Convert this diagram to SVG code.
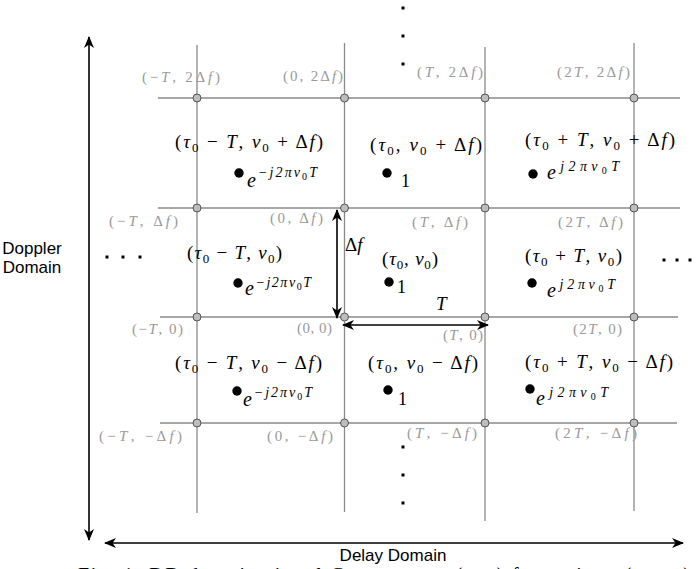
<svg xmlns="http://www.w3.org/2000/svg" width="696" height="569" viewBox="0 0 696 569">
<style>
.grid{stroke:#8a8a8a;stroke-width:1.3;fill:none}
.pt{fill:#bdbdbd;stroke:#555;stroke-width:1}
.g{font-family:"Liberation Serif",serif;font-size:15px;fill:#9a9a9a}
.m{font-family:"Liberation Serif",serif;font-size:19px;fill:#000}
.i{font-style:italic}
.s{font-size:13px;font-style:normal}
.ss{font-size:10px;font-style:normal}
.sup{font-size:14px;font-style:italic}
.e{font-family:"Liberation Serif",serif;font-size:20px;font-style:italic;fill:#000}
.one{font-family:"Liberation Serif",serif;font-size:18px;fill:#000}
.ax{stroke:#000;stroke-width:1.6;fill:none}
.lbl{font-family:"Liberation Sans",Arial,sans-serif;font-size:17px;fill:#000}
.dot{fill:#000}
</style>
<defs>
<marker id="ah" viewBox="0 0 12 10" refX="11" refY="5" markerWidth="12" markerHeight="10" orient="auto-start-reverse" markerUnits="userSpaceOnUse">
<path d="M0,0 L12,5 L0,10 L3.5,5 z" fill="#000"/>
</marker>
</defs>

<g id="grid-lines">
<line class="grid" x1="158" y1="98" x2="680" y2="98"/>
<line class="grid" x1="158" y1="208" x2="680" y2="208"/>
<line class="grid" x1="160" y1="317" x2="678" y2="317"/>
<line class="grid" x1="160" y1="423" x2="677" y2="423"/>
<line class="grid" x1="197" y1="45" x2="197" y2="513"/>
<line class="grid" x1="344.5" y1="43" x2="344.5" y2="512"/>
<line class="grid" x1="485" y1="47" x2="485" y2="521"/>
<line class="grid" x1="634" y1="43" x2="634" y2="511"/>
</g>

<g id="grid-points">
<g id="p-mT-2df"><circle class="pt" cx="197" cy="98" r="4"/><text class="g" x="142" y="82" textLength="78" lengthAdjust="spacing">(−<tspan class="i">T</tspan>, 2Δ<tspan class="i">f</tspan>)</text></g>
<g id="p-0-2df"><circle class="pt" cx="344.5" cy="98" r="4"/><text class="g" x="283" y="81" textLength="60" lengthAdjust="spacing">(0, 2Δ<tspan class="i">f</tspan>)</text></g>
<g id="p-T-2df"><circle class="pt" cx="485" cy="98" r="4"/><text class="g" x="417" y="77" textLength="66" lengthAdjust="spacing">(<tspan class="i">T</tspan>, 2Δ<tspan class="i">f</tspan>)</text></g>
<g id="p-2T-2df"><circle class="pt" cx="634" cy="98" r="4"/><text class="g" x="557" y="77" textLength="73" lengthAdjust="spacing">(2<tspan class="i">T</tspan>, 2Δ<tspan class="i">f</tspan>)</text></g>

<g id="p-mT-df"><circle class="pt" cx="197" cy="208" r="4"/><text class="g" x="109" y="226" textLength="69" lengthAdjust="spacing">(−<tspan class="i">T</tspan>, Δ<tspan class="i">f</tspan>)</text></g>
<g id="p-0-df"><circle class="pt" cx="344.5" cy="208" r="4"/><text class="g" x="270" y="223" textLength="53" lengthAdjust="spacing">(0, Δ<tspan class="i">f</tspan>)</text></g>
<g id="p-T-df"><circle class="pt" cx="485" cy="208" r="4"/><text class="g" x="412" y="227" textLength="56" lengthAdjust="spacing">(<tspan class="i">T</tspan>, Δ<tspan class="i">f</tspan>)</text></g>
<g id="p-2T-df"><circle class="pt" cx="634" cy="208" r="4"/><text class="g" x="558" y="227" textLength="65" lengthAdjust="spacing">(2<tspan class="i">T</tspan>, Δ<tspan class="i">f</tspan>)</text></g>

<g id="p-mT-0"><circle class="pt" cx="197" cy="317" r="4"/><text class="g" x="132" y="334" textLength="51" lengthAdjust="spacing">(−<tspan class="i">T</tspan>, 0)</text></g>
<g id="p-0-0"><circle class="pt" cx="344.5" cy="317" r="4"/><text class="g" x="297" y="333" textLength="35" lengthAdjust="spacing">(0, 0)</text></g>
<g id="p-T-0"><circle class="pt" cx="485" cy="317" r="4"/><text class="g" x="443" y="340" textLength="40" lengthAdjust="spacing">(<tspan class="i">T</tspan>, 0)</text></g>
<g id="p-2T-0"><circle class="pt" cx="634" cy="317" r="4"/><text class="g" x="573" y="334" textLength="49" lengthAdjust="spacing">(2<tspan class="i">T</tspan>, 0)</text></g>

<g id="p-mT-mdf"><circle class="pt" cx="197" cy="423" r="4"/><text class="g" x="99" y="441" textLength="83" lengthAdjust="spacing">(−<tspan class="i">T</tspan>, −Δ<tspan class="i">f</tspan>)</text></g>
<g id="p-0-mdf"><circle class="pt" cx="344.5" cy="423" r="4"/><text class="g" x="267" y="441" textLength="66" lengthAdjust="spacing">(0, −Δ<tspan class="i">f</tspan>)</text></g>
<g id="p-T-mdf"><circle class="pt" cx="485" cy="423" r="4"/><text class="g" x="407" y="438" textLength="70" lengthAdjust="spacing">(<tspan class="i">T</tspan>, −Δ<tspan class="i">f</tspan>)</text></g>
<g id="p-2T-mdf"><circle class="pt" cx="634" cy="423" r="4"/><text class="g" x="555" y="438" textLength="82" lengthAdjust="spacing">(2<tspan class="i">T</tspan>, −Δ<tspan class="i">f</tspan>)</text></g>
</g>

<g id="cell-TL">
<text class="m" x="175" y="148" textLength="148" lengthAdjust="spacing">(<tspan class="i">τ</tspan><tspan class="s" dy="4">0</tspan><tspan dy="-4"> − </tspan><tspan class="i">T</tspan>, <tspan class="i">ν</tspan><tspan class="s" dy="4">0</tspan><tspan dy="-4"> + Δ</tspan><tspan class="i">f</tspan>)</text>
<circle class="dot" cx="239" cy="173" r="4.7"/>
<text class="e" x="247" y="187" textLength="70" lengthAdjust="spacing">e<tspan class="sup" dy="-10">−j2πν</tspan><tspan class="ss" dy="3">0</tspan><tspan class="sup" dy="-3">T</tspan></text>
</g>
<g id="cell-TM">
<text class="m" x="370" y="151" textLength="112" lengthAdjust="spacing">(<tspan class="i">τ</tspan><tspan class="s" dy="4">0</tspan><tspan dy="-4">, </tspan><tspan class="i">ν</tspan><tspan class="s" dy="4">0</tspan><tspan dy="-4"> + Δ</tspan><tspan class="i">f</tspan>)</text>
<circle class="dot" cx="387" cy="173" r="4.7"/>
<text class="one" x="401" y="187">1</text>
</g>
<g id="cell-TR">
<text class="m" x="525" y="146" textLength="150" lengthAdjust="spacing">(<tspan class="i">τ</tspan><tspan class="s" dy="4">0</tspan><tspan dy="-4"> + </tspan><tspan class="i">T</tspan>, <tspan class="i">ν</tspan><tspan class="s" dy="4">0</tspan><tspan dy="-4"> + Δ</tspan><tspan class="i">f</tspan>)</text>
<circle class="dot" cx="533" cy="174" r="4.7"/>
<text class="e" x="547" y="179" textLength="72" lengthAdjust="spacing">e<tspan class="sup" dy="-8">j2πν</tspan><tspan class="ss" dy="3">0</tspan><tspan class="sup" dy="-3">T</tspan></text>
</g>

<g id="cell-ML">
<text class="m" x="187" y="259" textLength="95" lengthAdjust="spacing">(<tspan class="i">τ</tspan><tspan class="s" dy="4">0</tspan><tspan dy="-4"> − </tspan><tspan class="i">T</tspan>, <tspan class="i">ν</tspan><tspan class="s" dy="4">0</tspan><tspan dy="-4">)</tspan></text>
<circle class="dot" cx="238" cy="283" r="4.7"/>
<text class="e" x="245" y="295" textLength="66" lengthAdjust="spacing">e<tspan class="sup" dy="-8">−j2πν</tspan><tspan class="ss" dy="3">0</tspan><tspan class="sup" dy="-3">T</tspan></text>
</g>
<g id="cell-MM">
<text class="m" x="382" y="265" textLength="56" lengthAdjust="spacing">(<tspan class="i">τ</tspan><tspan class="s" dy="4">0</tspan><tspan dy="-4">, </tspan><tspan class="i">ν</tspan><tspan class="s" dy="4">0</tspan><tspan dy="-4">)</tspan></text>
<circle class="dot" cx="389" cy="282" r="4.7"/>
<text class="one" x="397" y="293">1</text>
</g>
<g id="cell-MR">
<text class="m" x="525" y="262" textLength="97" lengthAdjust="spacing">(<tspan class="i">τ</tspan><tspan class="s" dy="4">0</tspan><tspan dy="-4"> + </tspan><tspan class="i">T</tspan>, <tspan class="i">ν</tspan><tspan class="s" dy="4">0</tspan><tspan dy="-4">)</tspan></text>
<circle class="dot" cx="532" cy="283" r="4.7"/>
<text class="e" x="547" y="297" textLength="68" lengthAdjust="spacing">e<tspan class="sup" dy="-8">j2πν</tspan><tspan class="ss" dy="3">0</tspan><tspan class="sup" dy="-3">T</tspan></text>
</g>

<g id="cell-BL">
<text class="m" x="175" y="369" textLength="147" lengthAdjust="spacing">(<tspan class="i">τ</tspan><tspan class="s" dy="4">0</tspan><tspan dy="-4"> − </tspan><tspan class="i">T</tspan>, <tspan class="i">ν</tspan><tspan class="s" dy="4">0</tspan><tspan dy="-4"> − Δ</tspan><tspan class="i">f</tspan>)</text>
<circle class="dot" cx="237" cy="391" r="4.7"/>
<text class="e" x="243" y="406" textLength="69" lengthAdjust="spacing">e<tspan class="sup" dy="-9">−j2πν</tspan><tspan class="ss" dy="3">0</tspan><tspan class="sup" dy="-3">T</tspan></text>
</g>
<g id="cell-BM">
<text class="m" x="368" y="369" textLength="110" lengthAdjust="spacing">(<tspan class="i">τ</tspan><tspan class="s" dy="4">0</tspan><tspan dy="-4">, </tspan><tspan class="i">ν</tspan><tspan class="s" dy="4">0</tspan><tspan dy="-4"> − Δ</tspan><tspan class="i">f</tspan>)</text>
<circle class="dot" cx="388" cy="390" r="4.7"/>
<text class="one" x="398" y="405">1</text>
</g>
<g id="cell-BR">
<text class="m" x="525" y="368" textLength="148" lengthAdjust="spacing">(<tspan class="i">τ</tspan><tspan class="s" dy="4">0</tspan><tspan dy="-4"> + </tspan><tspan class="i">T</tspan>, <tspan class="i">ν</tspan><tspan class="s" dy="4">0</tspan><tspan dy="-4"> − Δ</tspan><tspan class="i">f</tspan>)</text>
<circle class="dot" cx="530" cy="389" r="4.7"/>
<text class="e" x="536" y="405" textLength="72" lengthAdjust="spacing">e<tspan class="sup" dy="-8">j2πν</tspan><tspan class="ss" dy="3">0</tspan><tspan class="sup" dy="-3">T</tspan></text>
</g>

<g id="ellipses">
<rect x="401.5" y="6.5" width="3" height="3"/>
<rect x="401.5" y="34.5" width="3" height="3"/>
<rect x="401.5" y="62.5" width="3" height="3"/>
<rect x="401.5" y="445.5" width="3" height="3"/>
<rect x="401.5" y="473.5" width="3" height="3"/>
<rect x="401.5" y="501.5" width="3" height="3"/>
<rect x="105.5" y="255.5" width="3" height="3"/>
<rect x="121.5" y="255.5" width="3" height="3"/>
<rect x="138.5" y="255.5" width="3" height="3"/>
<rect x="662.5" y="258.5" width="3" height="3"/>
<rect x="675.5" y="258.5" width="3" height="3"/>
<rect x="688.5" y="258.5" width="3" height="3"/>
</g>

<g id="connectors">
<line class="ax" x1="89" y1="37" x2="89" y2="540" marker-start="url(#ah)" marker-end="url(#ah)"/>
<line class="ax" x1="105" y1="543" x2="683" y2="543" marker-start="url(#ah)" marker-end="url(#ah)"/>
<line class="ax" x1="337" y1="210" x2="337" y2="318" marker-start="url(#ah)" marker-end="url(#ah)"/>
<line class="ax" x1="343" y1="325" x2="488" y2="325" marker-start="url(#ah)" marker-end="url(#ah)"/>
</g>

<g id="axis-labels">
<text class="m" x="345" y="251">Δ<tspan class="i">f</tspan></text>
<text class="m i" x="436" y="310">T</text>
<text class="lbl" x="32" y="254" text-anchor="middle">Doppler</text>
<text class="lbl" x="32" y="273" text-anchor="middle">Domain</text>
<text class="lbl" x="393" y="561" text-anchor="middle">Delay Domain</text>
</g>

<g id="caption">
<text x="78" y="582" font-family="Liberation Serif, serif" font-size="20" fill="#000" textLength="612" lengthAdjust="spacing">Fig. 1: DD domain signal Components (<tspan font-style="italic">τ</tspan>, <tspan font-style="italic">ν</tspan>) for a given (<tspan font-style="italic">τ</tspan><tspan font-size="14">0</tspan>, <tspan font-style="italic">ν</tspan><tspan font-size="14">0</tspan>)</text>
</g>
</svg>
